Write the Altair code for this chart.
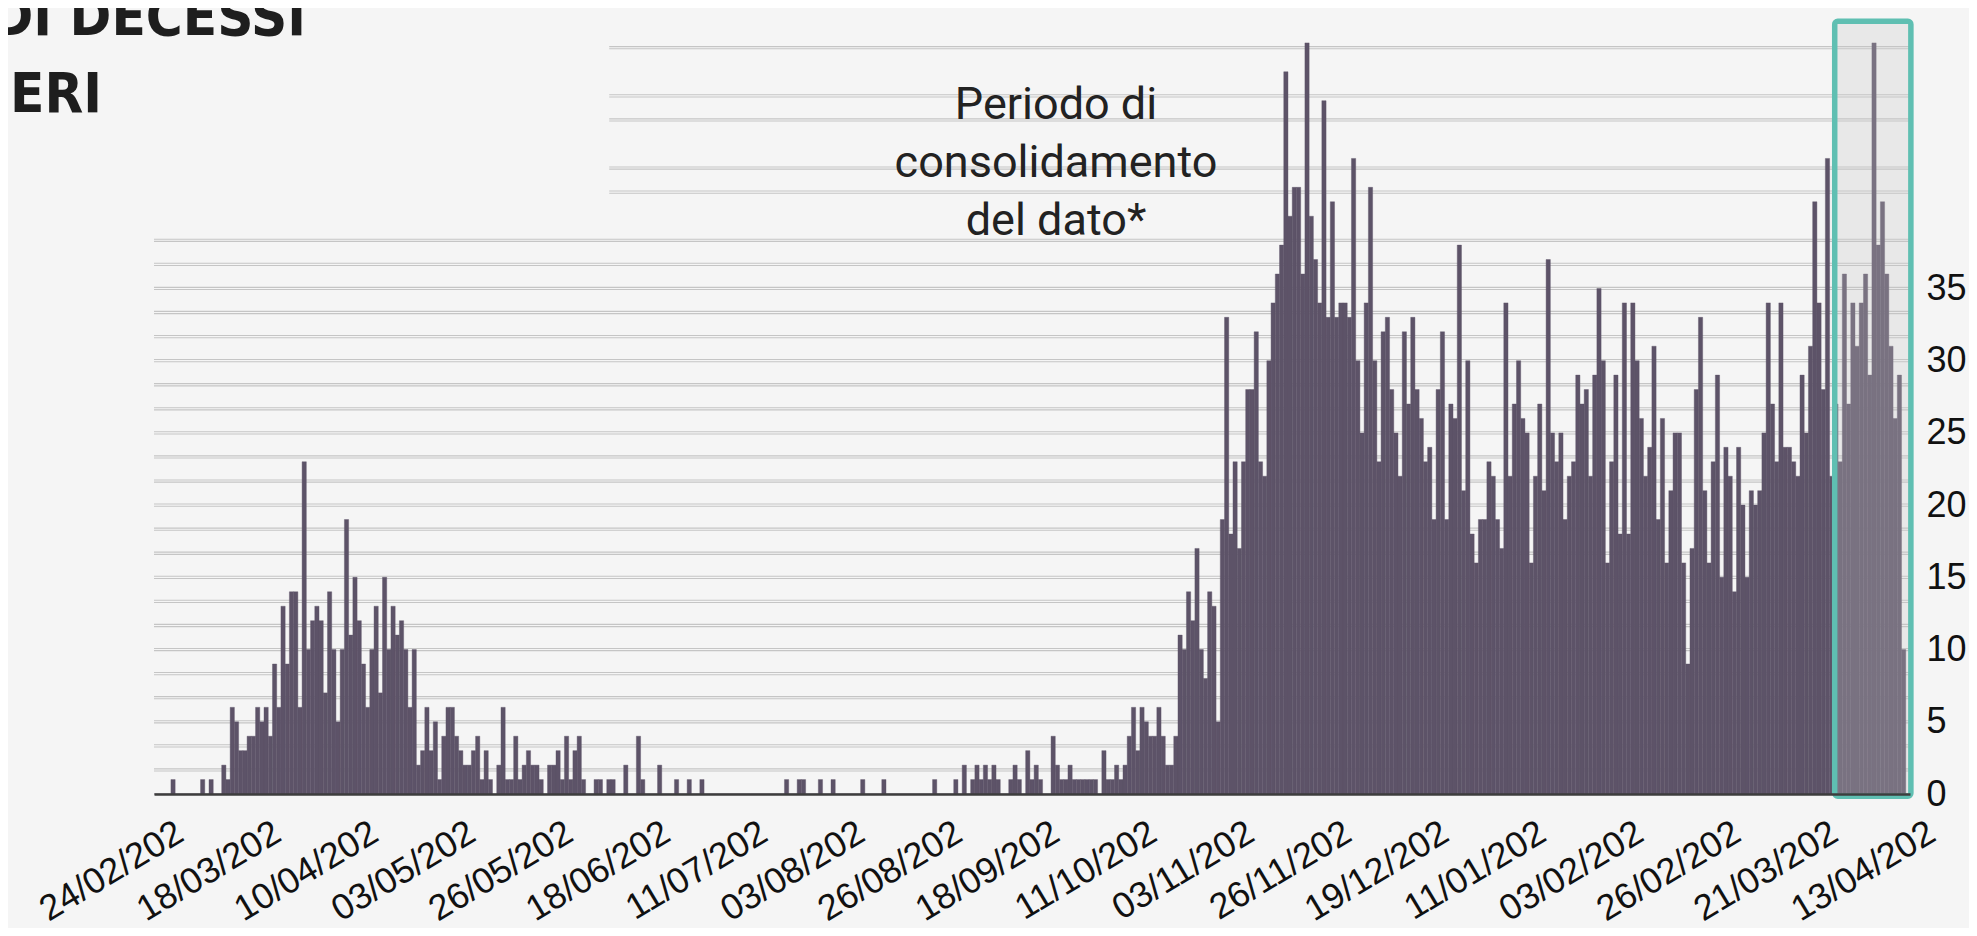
import altair as alt
import pandas as pd

# ---------------- data (daily deaths) ----------------
start_date = "2020-02-24"

deaths_feb_mar_2020 = [0, 0, 0, 0, 1, 0, 0, 0, 0, 0, 0, 1, 0, 1, 0, 0, 2, 1]
deaths_mar_apr_2020 = [6, 5, 3, 3, 4, 4, 6, 5, 6, 4, 9, 6, 13, 9, 14, 14, 6, 23, 10, 12,
                       13, 12, 7, 14, 10, 5, 10, 19, 11, 15, 12, 9, 6, 10, 13, 7, 15, 10, 13, 11]
deaths_apr_jun_2020 = [12, 10, 6, 10, 2, 3, 6, 3, 5, 1, 4, 6, 6, 4, 3, 2, 2, 3, 4, 1,
                       3, 1, 0, 2, 6, 1, 1, 4, 1, 2, 3, 2, 2, 1, 0, 2, 2, 3, 1, 4]
deaths_jun_jul_2020 = [1, 3, 4, 1, 0, 0, 1, 1, 0, 1,
                       1, 0, 0, 2, 0, 0, 4, 1, 0, 0,
                       0, 2, 0, 0, 0, 1, 0, 0, 1, 0,
                       0, 1, 0, 0, 0, 0, 0, 0, 0, 0,
                       0, 0, 0, 0, 0, 0, 0, 0, 0, 0,
                       0, 1, 0, 0, 1, 1, 0, 0, 0, 1,
                       0, 0, 1]
deaths_aug_oct_2020 = [0, 0, 0, 0, 0, 0, 1, 0, 0, 0,
                       0, 1, 0, 0, 0, 0, 0, 0, 0, 0,
                       0, 0, 0, 1, 0, 0, 0, 0, 1, 0,
                       2, 0, 1, 2, 1, 2, 1, 2, 1, 0,
                       0, 1, 2, 1, 0, 3, 1, 2, 1, 0,
                       0, 4, 2, 1, 1, 2, 1, 1, 1, 1,
                       1, 1, 0, 3, 1, 1, 2, 1, 2, 4]
deaths_oct_dec_2020 = [6, 3, 6, 5, 4, 4, 6, 4, 2, 2,
                       4, 11, 10, 14, 12, 17, 10, 8, 14, 13,
                       5, 19, 33, 18, 23, 17, 23, 28, 28, 32,
                       23, 22, 30, 34, 36, 38, 50, 40, 42, 42,
                       36, 52, 40, 37, 34, 48, 33, 41, 33, 34,
                       34, 33, 44, 30, 25, 34, 42, 30, 23, 32,
                       33, 28, 25, 22, 32, 27, 33, 28, 26]
deaths_dec_2020_feb_2021 = [23, 24, 19, 28, 32, 19, 27, 26, 38, 21,
                            30, 18, 16, 19, 19, 23, 22, 19, 17, 34,
                            22, 27, 30, 26, 25, 16, 22, 27, 21, 37,
                            25, 23, 25, 19, 22, 23, 29, 27, 28, 22,
                            29, 35, 30, 16, 23, 29, 18, 34, 18, 34,
                            30, 26, 22, 24, 31, 19, 26, 16, 21, 25,
                            25, 16, 9, 17]
deaths_feb_mar_2021 = [28, 33, 21, 16, 23, 29, 15, 24, 22, 14,
                       24, 20, 15, 21, 20, 21, 25, 34, 27, 23,
                       34, 24, 24, 23, 22, 29, 25, 31, 41, 34,
                       28, 44]
deaths_mar_apr_2021 = [22, 27, 23, 36, 27, 34, 31, 34, 36, 29, 52, 38, 41, 36, 31, 26, 29, 10, 0]

daily_deaths = (deaths_feb_mar_2020 + deaths_mar_apr_2020 + deaths_apr_jun_2020 +
                deaths_jun_jul_2020 + deaths_aug_oct_2020 + deaths_oct_dec_2020 +
                deaths_dec_2020_feb_2021 + deaths_feb_mar_2021 + deaths_mar_apr_2021)

tick_labels = ["24/02/2020", "18/03/2020", "10/04/2020", "03/05/2020", "26/05/2020",
               "18/06/2020", "11/07/2020", "03/08/2020", "26/08/2020", "18/09/2020",
               "11/10/2020", "03/11/2020", "26/11/2020", "19/12/2020", "11/01/2021",
               "03/02/2021", "26/02/2021", "21/03/2021", "13/04/2021"]
y_tick_values = [0, 5, 10, 15, 20, 25, 30, 35]

title_lines = ["NUMERO DI DECESSI", "GIORNALIERI"]
note_text = "Periodo di\nconsolidamento\ndel dato*"

# consolidation period box (dates) and grid levels
box_start, box_end = "2021-03-27T05:00:00Z", "2021-04-14T05:00:00Z"
box_low, box_high = -0.15, 53.5
grid_levels_full = [k * 5 / 3 for k in range(1, 24)]
grid_levels_upper = [k * 5 / 3 for k in (25, 26, 28, 29, 31)]
upper_grid_start, grid_end = "2020-06-10T14:00:00Z", "2021-04-14T00:00:00Z"

# ---------------- build frames ----------------
dates = pd.date_range(start_date, periods=len(daily_deaths), freq="D")
df = pd.DataFrame({
    "data": dates.strftime("%Y-%m-%dT00:00:00Z"),
    "fine": (dates + pd.Timedelta(days=1)).strftime("%Y-%m-%dT00:00:00Z"),
    "decessi": daily_deaths,
})


def dt(s, hours=0):
    d, m, y = s.split("/")
    return alt.DateTime(year=int(y), month=int(m), date=int(d), hours=hours, utc=True)


W, H = 1756, 780
BAR = "#5d5368"
BG = "#f5f5f5"
LABEL_FONT = "Liberation Sans"
TITLE_FONT = "'Liberation Sans Narrow', 'DejaVu Sans Condensed', Roboto"

xscale = alt.Scale(type="utc", domain=[dt("24/02/2020"), dt("14/04/2021")], nice=False)
yscale = alt.Scale(domain=[0, 54], nice=False, zero=True)

xaxis = alt.Axis(values=[dt(s, 12) for s in tick_labels],
                 labelExpr="substring(utcFormat(datum.value, '%d/%m/%Y'), 0, 9)",
                 labelAngle=-31, labelAlign="right", labelBaseline="top",
                 labelFont=LABEL_FONT, labelFontSize=36, labelColor="#111111",
                 labelPadding=21, labelOffset=15, labelOverlap=False, labelFlush=False,
                 labelBound=False, ticks=False, tickSize=0, grid=False, title=None,
                 domainColor="#3d3d3d", domainWidth=2.5, zindex=1)
yaxis = alt.Axis(orient="right", values=y_tick_values, labelFont=LABEL_FONT,
                 labelFontSize=36, labelColor="#111111", labelAlign="left",
                 labelPadding=16, ticks=False, tickSize=0, domain=False, grid=False,
                 title=None)

bars = alt.Chart(df).mark_rect(color=BAR, stroke=BAR, strokeWidth=0.4).encode(
    x=alt.X("data:T", scale=xscale, axis=xaxis, title=None),
    x2="fine:T",
    y=alt.Y("decessi:Q", scale=yscale, axis=yaxis, title=None),
    y2=alt.datum(0),
)

grid_full = pd.DataFrame({"livello": grid_levels_full})
grid_up = pd.DataFrame({"livello": grid_levels_upper,
                        "da": [upper_grid_start] * len(grid_levels_upper),
                        "a": [grid_end] * len(grid_levels_upper)})

grid_layers = []
for off in (-1.1, 1.1):
    grid_layers.append(
        alt.Chart(grid_full).mark_rule(color="#c5c5c5", strokeWidth=1.1, yOffset=off)
        .encode(y=alt.Y("livello:Q", scale=yscale, axis=yaxis, title=None))
    )
    grid_layers.append(
        alt.Chart(grid_up).mark_rule(color="#c5c5c5", strokeWidth=1.1, yOffset=off)
        .encode(x=alt.X("da:T", scale=xscale, axis=xaxis, title=None), x2="a:T",
                y=alt.Y("livello:Q", scale=yscale, axis=yaxis, title=None))
    )

box = alt.Chart(pd.DataFrame({"da": [box_start], "a": [box_end],
                              "basso": [box_low], "alto": [box_high]})).mark_rect(
    fill="#c9c9c9", fillOpacity=0.27, stroke="#5fbfb2", strokeWidth=5.5, cornerRadius=3
).encode(x=alt.X("da:T", scale=xscale, axis=xaxis, title=None), x2="a:T",
         y=alt.Y("basso:Q", scale=yscale, axis=yaxis, title=None), y2="alto:Q")

note = alt.Chart(pd.DataFrame({"t": [note_text]})).mark_text(
    font="Roboto", fontSize=45, color="#222222", align="center", baseline="alphabetic",
    lineBreak="\n", lineHeight=58
).encode(x=alt.value(902), y=alt.value(105), text="t:N")

title1 = alt.Chart(pd.DataFrame({"t": [title_lines[0]]})).mark_text(
    font=TITLE_FONT, fontWeight="bold", fontSize=56, color="#1e1e1e", align="right",
    baseline="alphabetic"
).encode(x=alt.value(152), y=alt.value(21), text="t:N")

title2 = alt.Chart(pd.DataFrame({"t": [title_lines[1]]})).mark_text(
    font=TITLE_FONT, fontWeight="bold", fontSize=56, color="#1e1e1e", align="right",
    baseline="alphabetic"
).encode(x=alt.value(-52), y=alt.value(98), text="t:N")

chart = alt.layer(*grid_layers, bars, box, note, title1, title2).properties(
    width=W, height=H,
    autosize=alt.AutoSizeParams(type="none"),
    padding={"left": 146, "top": 6, "right": 59, "bottom": 134},
    background=BG,
).configure_view(stroke=None)

chart.save("out.html", embed_options={"renderer": "svg", "actions": False})
